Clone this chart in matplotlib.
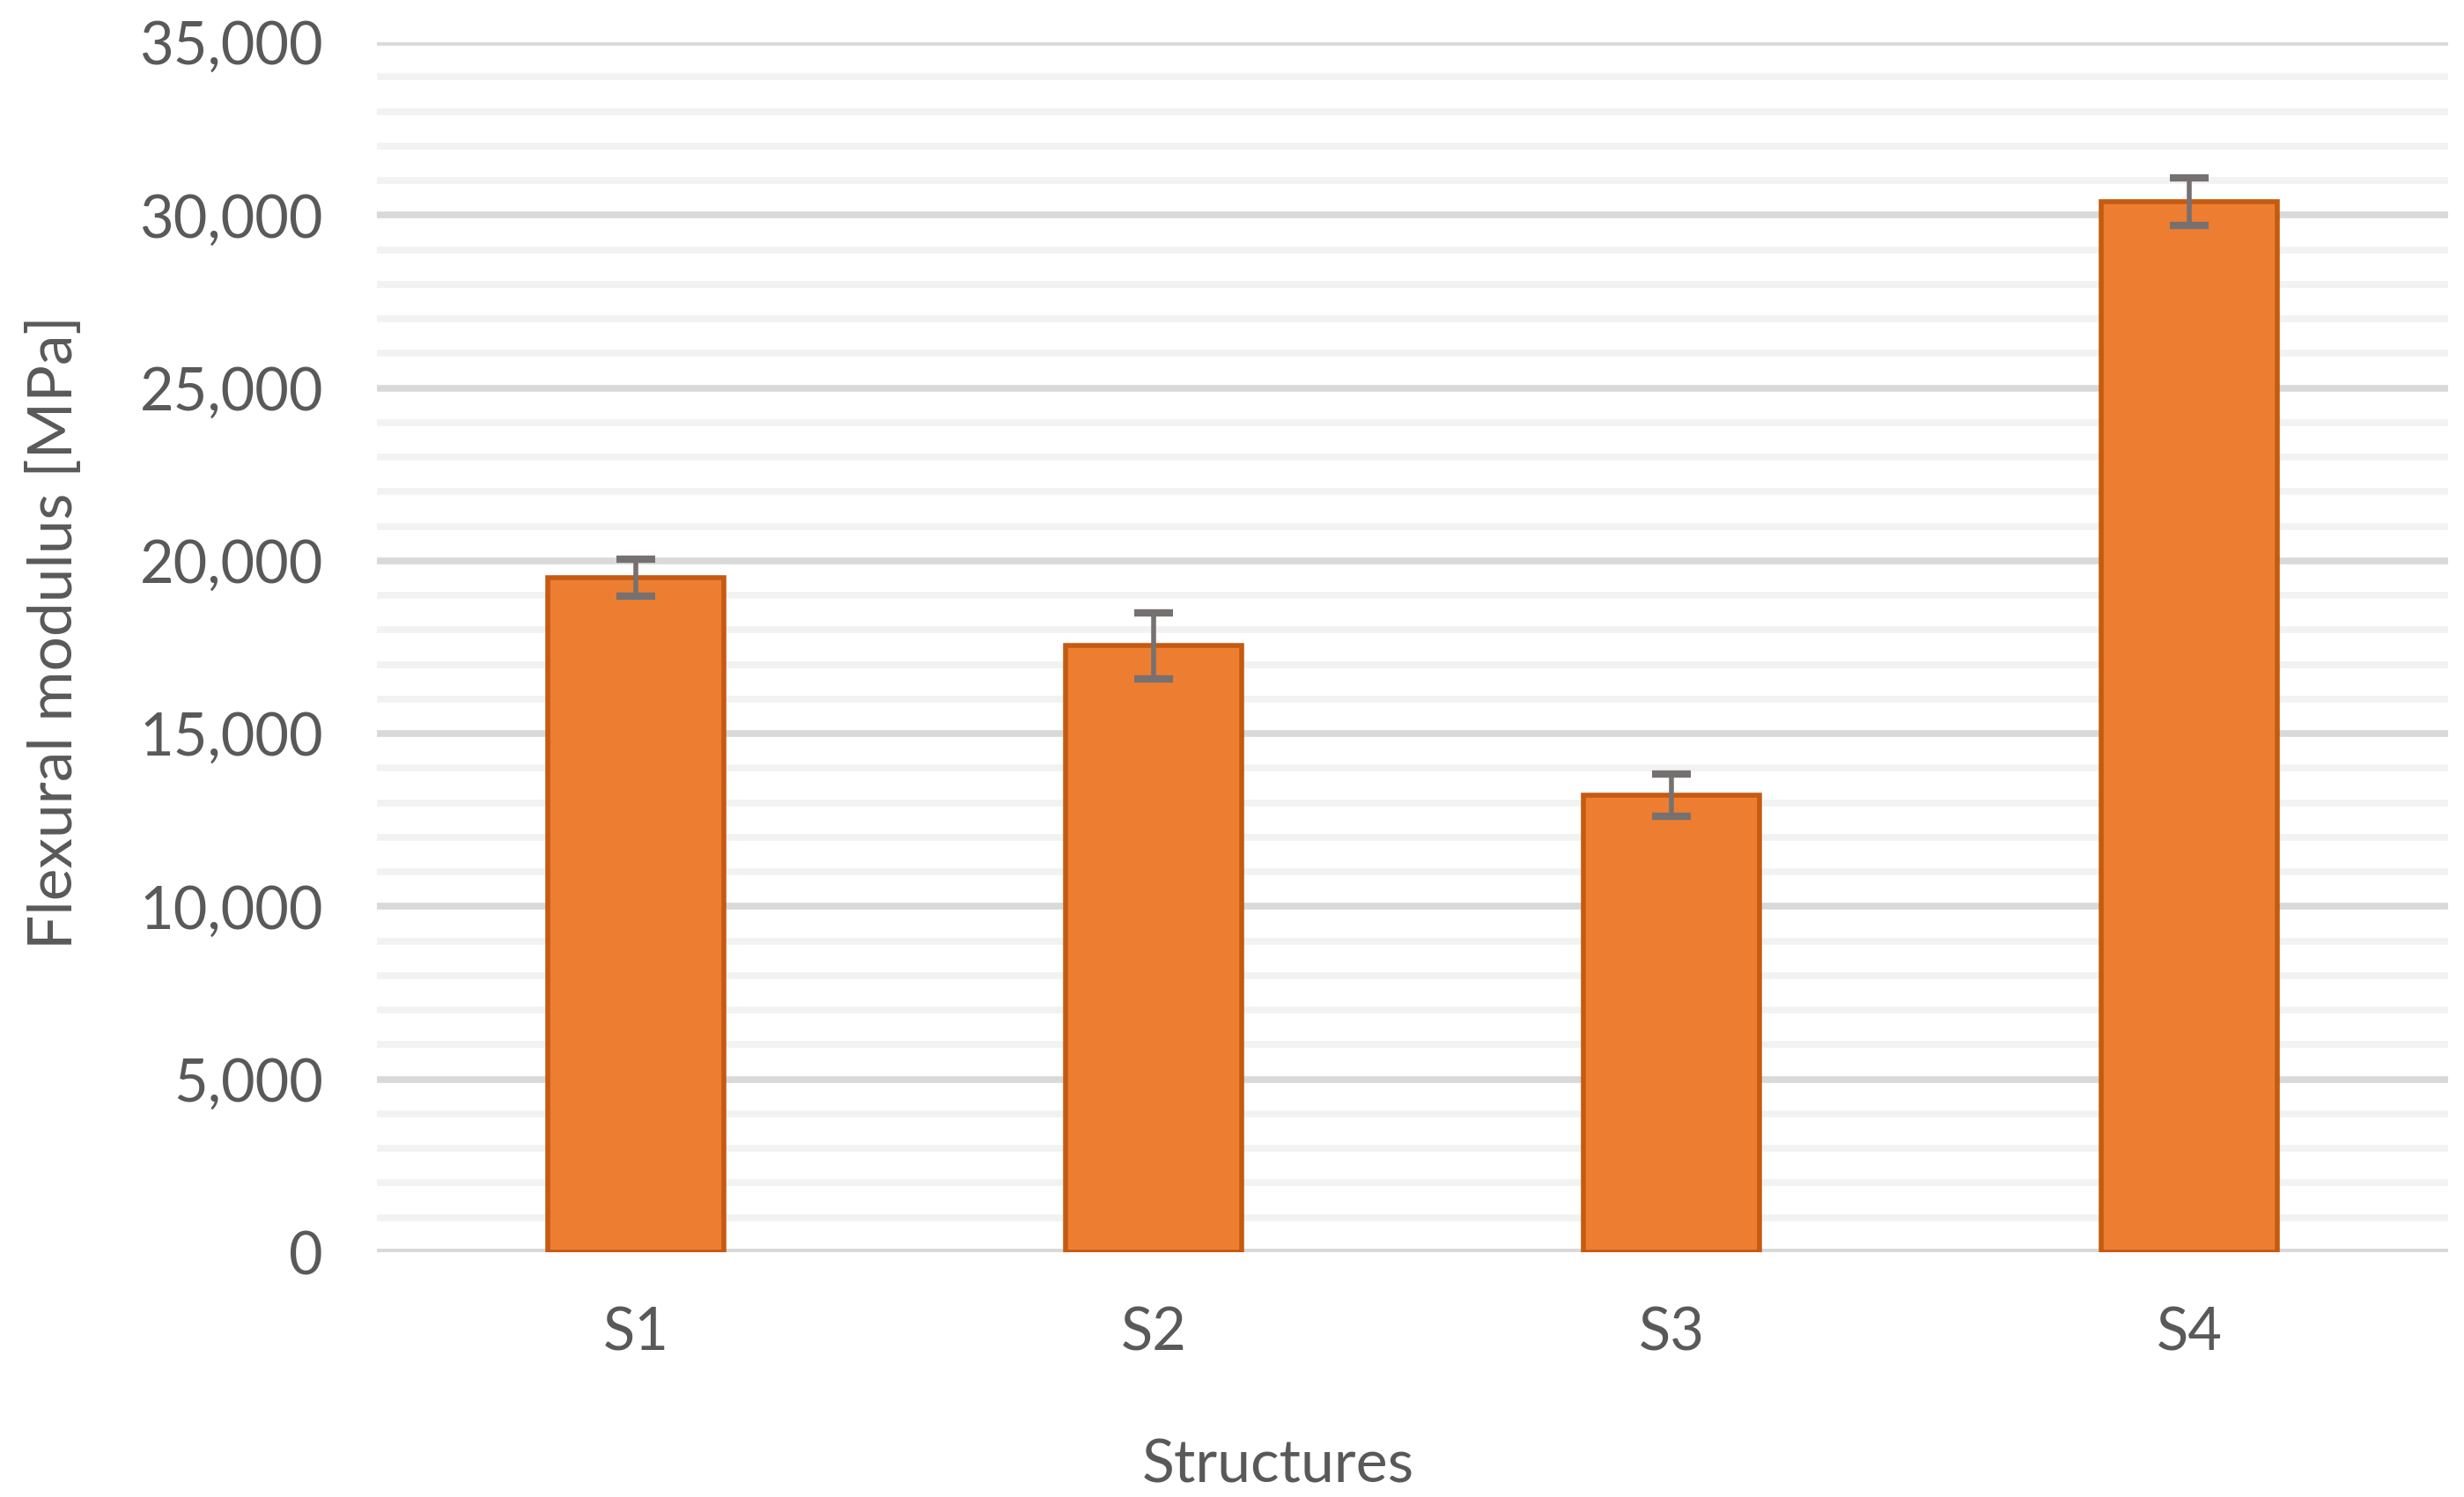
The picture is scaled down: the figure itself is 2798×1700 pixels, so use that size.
import matplotlib
matplotlib.use("Agg")
import matplotlib.pyplot as plt
from matplotlib.ticker import MultipleLocator, FuncFormatter
import numpy as np

categories = ["S1", "S2", "S3", "S4"]
modulus = [19500, 17540, 13220, 30380]
errors = [535, 945, 615, 690]
y_ticks = [0, 5000, 10000, 15000, 20000, 25000, 30000, 35000]

plt.rcParams['font.family'] = ['Lato', 'DejaVu Sans']
txt = '#595959'

fig = plt.figure(figsize=(27.98, 17.0), dpi=100)
ax = fig.add_axes([428/2798, 1 - 1422/1700, (2780-428)/2798, (1422-48)/1700])

x = np.arange(len(categories))
ax.bar(x, modulus, width=0.34, color='#ED7D31', edgecolor='#C55A11',
       linewidth=4, zorder=3)
ax.errorbar(x, modulus, yerr=errors, fmt='none', ecolor='#767171',
            elinewidth=4, capsize=16, capthick=6, zorder=4)

ax.set_xlim(-0.5, len(categories) - 0.5)
ax.set_ylim(0, 35000)
ax.set_yticks(y_ticks)
ax.yaxis.set_minor_locator(MultipleLocator(1000))
ax.yaxis.set_major_formatter(FuncFormatter(lambda v, p: f"{int(v):,}"))
ax.set_xticks(x)
ax.set_xticklabels(categories)

ax.grid(axis='y', which='minor', color='#F2F2F2', linewidth=5.5, zorder=0)
ax.grid(axis='y', which='major', color='#D9D9D9', linewidth=5.5, zorder=1)
ax.axhline(0, color='#D9D9D9', linewidth=5.5, zorder=2)
for s in ax.spines.values():
    s.set_visible(False)
ax.tick_params(axis='both', which='both', length=0, labelsize=48, colors=txt)
ax.tick_params(axis='y', pad=44)
ax.tick_params(axis='x', pad=44)

fig.text(62/2798, 1 - 718/1700, "Flexural modulus [MPa]", rotation=90,
         ha='center', va='center', fontsize=50, color=txt)
fig.text(1451/2798, 1 - 1664/1700, "Structures", ha='center', va='center',
         fontsize=49, color=txt)

fig.savefig("out.png", dpi=100, facecolor='white')
